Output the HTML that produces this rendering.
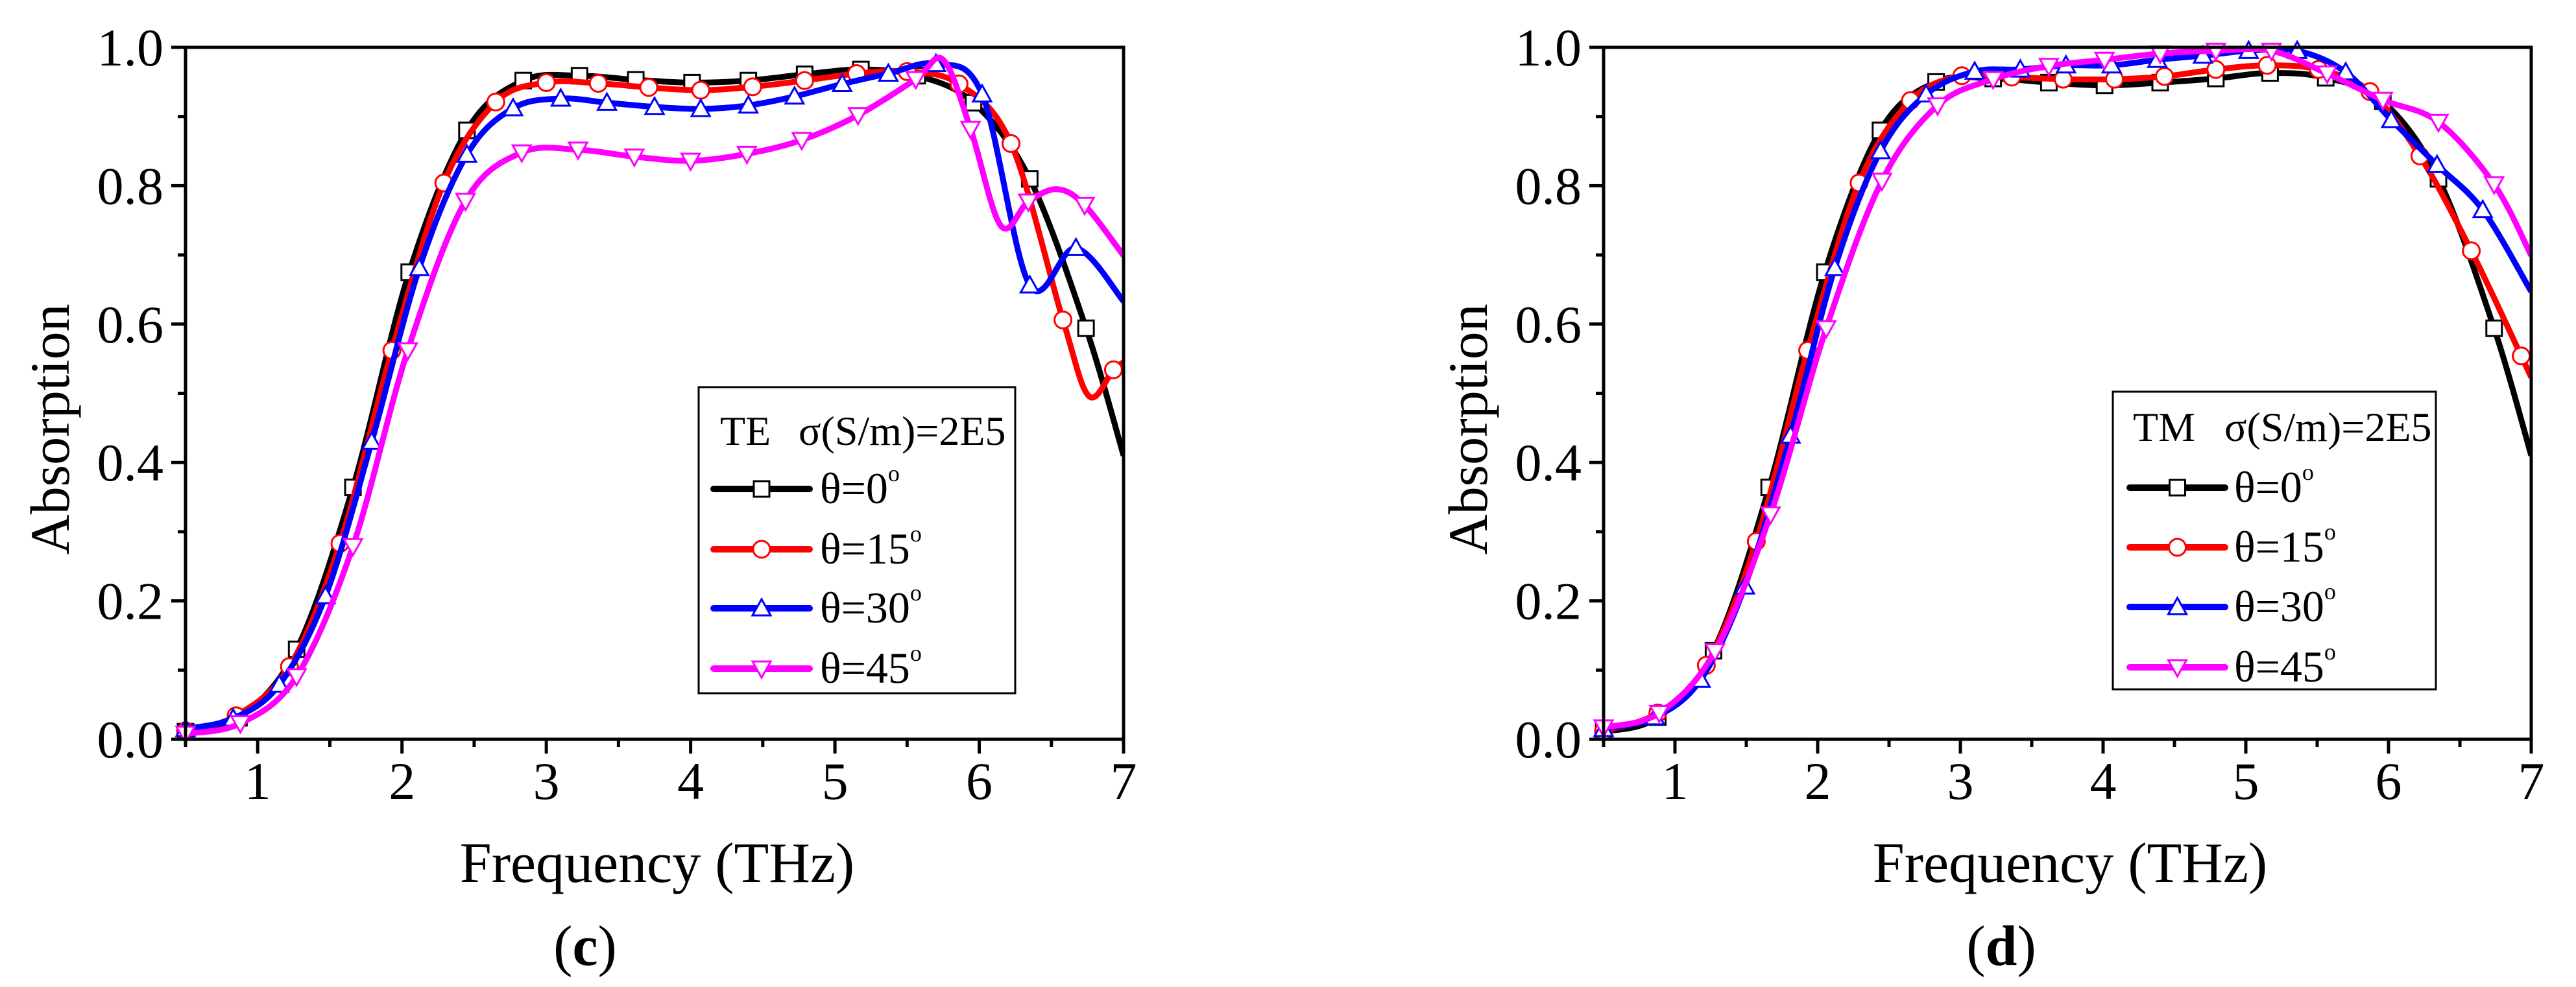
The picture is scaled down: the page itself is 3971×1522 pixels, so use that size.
<!DOCTYPE html>
<html><head><meta charset="utf-8"><style>
html,body{margin:0;padding:0;background:#fff;}
svg{display:block;font-family:"Liberation Serif",serif;}
</style></head><body>
<svg id="fig" width="3971" height="1522" viewBox="0 0 3971 1522" xmlns="http://www.w3.org/2000/svg"></svg>
<script>
// ---- data ----
const xTicks = [1,2,3,4,5,6,7];
const yTicks = [0.0,0.2,0.4,0.6,0.8,1.0];
const yTickLabels = ["0.0","0.2","0.4","0.6","0.8","1.0"];
const seriesLabels = ["0","15","30","45"];

const cF0 = [0.5,0.87,1.27,1.66,2.05,2.45,2.84,3.23,3.62,4.01,4.4,4.79,5.18,5.57,5.96,6.35,6.74,7.0];
const cA0 = [0.011,0.031,0.13,0.364,0.675,0.88,0.952,0.959,0.953,0.949,0.952,0.961,0.968,0.959,0.92,0.81,0.594,0.41];
const cF15 = [0.5,0.85,1.22,1.57,1.93,2.29,2.65,3.0,3.36,3.71,4.07,4.43,4.79,5.15,5.5,5.86,6.22,6.58,6.76,6.93,7.0];
const cA15 = [0.012,0.034,0.105,0.283,0.562,0.804,0.921,0.949,0.948,0.942,0.938,0.943,0.952,0.962,0.965,0.947,0.861,0.606,0.496,0.534,0.545];
const cF30 = [0.5,0.83,1.15,1.47,1.79,2.12,2.45,2.77,3.1,3.42,3.75,4.07,4.4,4.72,5.05,5.37,5.7,6.02,6.35,6.67,7.0];
const cA30 = [0.015,0.03,0.079,0.207,0.43,0.681,0.845,0.912,0.926,0.92,0.914,0.911,0.916,0.929,0.947,0.962,0.976,0.932,0.656,0.71,0.633];
const cF45 = [0.5,0.88,1.27,1.66,2.04,2.44,2.83,3.22,3.61,4.0,4.39,4.77,5.16,5.56,5.75,5.94,6.15,6.34,6.54,6.73,7.0];
const cA45 = [0.008,0.023,0.091,0.279,0.562,0.778,0.848,0.852,0.842,0.836,0.846,0.866,0.902,0.954,0.982,0.882,0.742,0.777,0.795,0.772,0.699];

const dF0 = [0.5,0.88,1.27,1.66,2.05,2.44,2.83,3.23,3.62,4.01,4.4,4.79,5.17,5.56,5.96,6.35,6.74,7.0];
const dA0 = [0.011,0.032,0.128,0.364,0.675,0.88,0.95,0.955,0.949,0.945,0.949,0.955,0.963,0.956,0.922,0.81,0.594,0.41];
const dF15 = [0.5,0.88,1.22,1.57,1.93,2.29,2.65,3.01,3.36,3.72,4.08,4.43,4.79,5.15,5.51,5.87,6.22,6.58,6.93,7.0];
const dA15 = [0.012,0.038,0.107,0.286,0.562,0.804,0.923,0.959,0.957,0.954,0.954,0.958,0.968,0.974,0.968,0.936,0.843,0.706,0.554,0.523];
const dF30 = [0.5,0.86,1.18,1.49,1.81,2.12,2.44,2.76,3.1,3.42,3.74,4.06,4.38,4.7,5.02,5.36,5.7,6.02,6.34,6.66,7.0];
const dA30 = [0.015,0.032,0.086,0.221,0.439,0.681,0.85,0.932,0.965,0.968,0.974,0.974,0.982,0.988,0.995,0.995,0.964,0.895,0.83,0.765,0.647];
const dF45 = [0.5,0.89,1.28,1.67,2.06,2.45,2.84,3.23,3.62,4.01,4.4,4.79,5.18,5.57,5.96,6.35,6.74,7.0];
const dA45 = [0.017,0.038,0.127,0.325,0.594,0.807,0.916,0.954,0.973,0.982,0.991,0.995,0.995,0.962,0.924,0.892,0.802,0.699];

// frequencies that are curve-shape points only (no marker)
const cSkip15 = [6.76,7.0];
const cSkip45 = [5.75,6.15,6.54];

// ---- drawing ----
const NS = "http://www.w3.org/2000/svg";
const svg = document.getElementById('fig');
function el(tag, attrs, parent){
  const e = document.createElementNS(NS, tag);
  for (const k in attrs) e.setAttribute(k, attrs[k]);
  (parent||svg).appendChild(e);
  return e;
}
const COLORS = ["#000000","#ff0000","#0000ff","#ff00ff"];
const SHAPES = ["square","circle","up","down"];
const T = 73, B = 1140, XMIN = 0.5, XMAX = 7;

function marker(shape, cx, cy, color, parent){
  let m;
  if (shape === "square") m = el('rect',{x:cx-12,y:cy-12,width:24,height:24,fill:'#fff',stroke:color,'stroke-width':3},parent);
  else if (shape === "circle") m = el('circle',{cx:cx,cy:cy,r:13,fill:'#fff',stroke:color,'stroke-width':3},parent);
  else if (shape === "up") m = el('polygon',{points:`${cx},${cy-14} ${cx-14},${cy+11} ${cx+14},${cy+11}`,fill:'#fff',stroke:color,'stroke-width':3},parent);
  else m = el('polygon',{points:`${cx},${cy+14} ${cx-14},${cy-11} ${cx+14},${cy-11}`,fill:'#fff',stroke:color,'stroke-width':3},parent);
  return m;
}

function smoothPath(pts){
  let d = `M${pts[0][0]},${pts[0][1]}`;
  for (let i=0;i<pts.length-1;i++){
    const p0 = pts[Math.max(0,i-1)], p1 = pts[i], p2 = pts[i+1], p3 = pts[Math.min(pts.length-1,i+2)];
    const c1x = p1[0]+(p2[0]-p0[0])/6, c1y = p1[1]+(p2[1]-p0[1])/6;
    const c2x = p2[0]-(p3[0]-p1[0])/6, c2y = p2[1]-(p3[1]-p1[1])/6;
    d += ` C${c1x.toFixed(1)},${c1y.toFixed(1)} ${c2x.toFixed(1)},${c2y.toFixed(1)} ${p2[0].toFixed(1)},${p2[1].toFixed(1)}`;
  }
  return d;
}

function panel(id, L, R, series, skips, mode, legendBox, legendRows, letter, letterX){
  const g = el('g',{});
  
  
  const X = f => L + (f-XMIN)/(XMAX-XMIN)*(R-L);
  const Y = a => B - a*(B-T);
  const clip = el('clipPath',{id:'clip-'+id},g);
  el('rect',{x:L,y:T,width:R-L,height:B-T},clip);
  series.forEach((s,i)=>{
    const pts = s.f.map((f,j)=>[X(f),Y(s.a[j])]);
    const p = el('path',{d:smoothPath(pts),fill:'none',stroke:COLORS[i],'stroke-width':9,'stroke-linejoin':'round','clip-path':`url(#clip-${id})`},g);
    
    
    const skip = skips[i]||[];
    s.f.forEach((f,j)=>{
      if (f >= XMAX || skip.includes(f)) return;
      const m = marker(SHAPES[i], X(f), Y(s.a[j]), COLORS[i], g);
      
      
    });
  });
  const fr = el('rect',{x:L,y:T,width:R-L,height:B-T,fill:'none',stroke:'#000','stroke-width':5},g);
  
  
  for (let f=XMIN; f<=XMAX+1e-9; f+=0.5){
    const major = Math.abs(f-Math.round(f))<1e-9;
    el('line',{x1:X(f),y1:B,x2:X(f),y2:B+(major?22:12),stroke:'#000','stroke-width':5},g);
  }
  xTicks.forEach(f=>{
    const t = el('text',{x:X(f),y:1232,'font-size':82,'text-anchor':'middle'},g);
    t.textContent = f;
    
    
  });
  for (let k=0;k<=10;k++){
    const a = k/10, major = k%2===0;
    el('line',{x1:L,y1:Y(a),x2:L-(major?22:12),y2:Y(a),stroke:'#000','stroke-width':5},g);
  }
  yTicks.forEach((a,i)=>{
    const t = el('text',{x:L-34,y:Y(a)+28,'font-size':82,'text-anchor':'end'},g);
    t.textContent = yTickLabels[i];
    
    
  });
  const yt = el('text',{x:0,y:0,'font-size':86,'text-anchor':'middle',transform:`translate(${L-180},662) rotate(-90)`},g);
  yt.textContent = 'Absorption';
  
  
  const xt = el('text',{x:(L+R)/2+4,y:1360,'font-size':88,'text-anchor':'middle'},g);
  xt.textContent = 'Frequency (THz)';
  
  
  const lt = el('text',{x:letterX,y:1488,'font-size':88,'text-anchor':'middle'},g);
  
  
  const t1 = el('tspan',{},lt); t1.textContent='(';
  const t2 = el('tspan',{'font-weight':'bold'},lt); t2.textContent=letter;
  const t3 = el('tspan',{},lt); t3.textContent=')';
  const lg = el('g',{},g);
  
  
  el('rect',{x:legendBox.x,y:legendBox.y,width:legendBox.w,height:legendBox.h,fill:'#fff',stroke:'#000','stroke-width':3},lg);
  const h1 = el('text',{x:legendBox.hx1,y:legendBox.hy,'font-size':64},lg);
  h1.textContent = mode;
  
  
  const h2 = el('text',{x:legendBox.hx2,y:legendBox.hy,'font-size':64},lg);
  h2.textContent = 'σ(S/m)=2E5';
  
  
  legendRows.ys.forEach((y,i)=>{
    const row = el('g',{},lg);
    
    
    el('line',{x1:legendRows.x1,y1:y,x2:legendRows.x2,y2:y,stroke:COLORS[i],'stroke-width':10,'stroke-linecap':'round'},row);
    marker(SHAPES[i],(legendRows.x1+legendRows.x2)/2,y,COLORS[i],row);
    const tx = el('text',{x:legendRows.tx,y:y+22,'font-size':68},row);
    const a = el('tspan',{},tx); a.textContent = 'θ='+seriesLabels[i];
    const b = el('tspan',{'font-size':36,dy:-34},tx); b.textContent = 'o';
  });
}

panel('c',286,1732,
  [{f:cF0,a:cA0},{f:cF15,a:cA15},{f:cF30,a:cA30},{f:cF45,a:cA45}],
  [[],cSkip15,[],cSkip45],'TE',
  {x:1077,y:597,w:488,h:472,hx1:1110,hx2:1231,hy:686},
  {ys:[754,847,938,1031],x1:1100,x2:1248,tx:1264},'c',902);
panel('d',2472,3902,
  [{f:dF0,a:dA0},{f:dF15,a:dA15},{f:dF30,a:dA30},{f:dF45,a:dA45}],
  [[],[],[],[]],'TM',
  {x:3257,y:604,w:498,h:459,hx1:3288,hx2:3429,hy:680},
  {ys:[752,844,936,1029],x1:3283,x2:3430,tx:3444},'d',3085);
</script>
</body></html>
